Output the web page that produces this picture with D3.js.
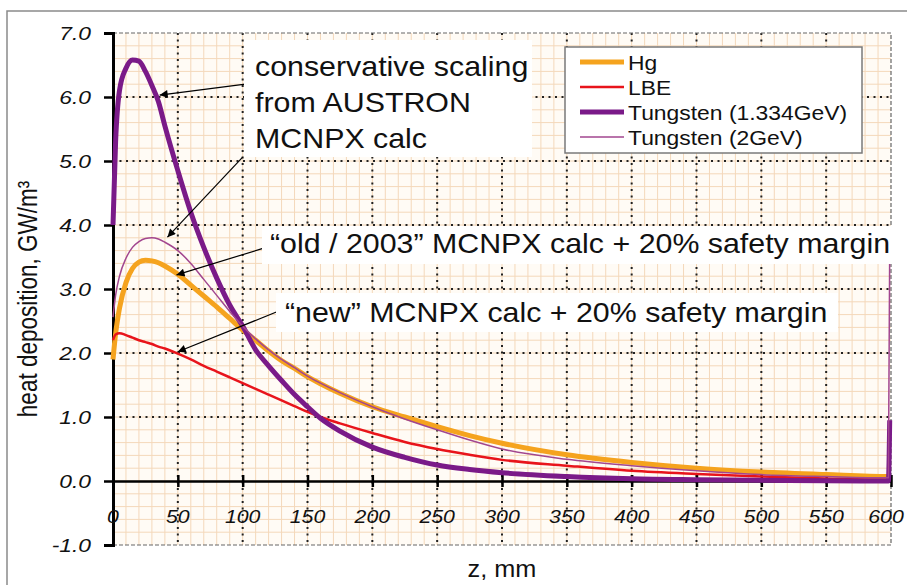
<!DOCTYPE html>
<html>
<head>
<meta charset="utf-8">
<script src="https://cdn.jsdelivr.net/npm/d3@7"></script>
<style>
body { margin: 0; background: #fff; }
text { font-family: "Liberation Sans", Arial, sans-serif; fill: #111; }
</style>
</head>
<body>
<div id="chart"></div>
<script>
// z positions (mm) shared by all series
const zValues = [0, 2, 5, 10, 15, 20, 25, 30, 35, 40, 50, 60, 70, 80, 90, 100, 110, 120, 130, 140,
    150, 160, 175, 200, 225, 250, 275, 300, 350, 400, 450, 500, 550, 598, 599];

const hgValues = [1.9, 2.3, 2.7, 3.1, 3.32, 3.42, 3.45, 3.44, 3.41, 3.36, 3.23, 3.06, 2.89, 2.72, 2.54, 2.36, 2.2, 2.03, 1.88, 1.76,
    1.63, 1.52, 1.37, 1.16, 1.0, 0.85, 0.71, 0.59, 0.41, 0.29, 0.2, 0.14, 0.1, 0.07, 0.07];

const lbeValues = [2.2, 2.29, 2.31, 2.28, 2.24, 2.2, 2.17, 2.14, 2.1, 2.07, 1.99, 1.9, 1.8, 1.71, 1.62, 1.53, 1.44, 1.35, 1.26, 1.17,
    1.08, 1.0, 0.9, 0.75, 0.61, 0.5, 0.41, 0.33, 0.24, 0.16, 0.11, 0.07, 0.04, 0.02, 0.02];

const tungstenValues = [4.0, 5.3, 6.1, 6.45, 6.58, 6.56, 6.4, 6.18, 5.93, 5.55, 4.85, 4.2, 3.65, 3.17, 2.75, 2.42, 2.05, 1.8, 1.57, 1.35,
    1.16, 0.98, 0.78, 0.53, 0.37, 0.25, 0.18, 0.13, 0.07, 0.035, 0.02, 0.01, 0.005, 0.0, 0.95];

const tungsten2Values = [2.56, 2.9, 3.2, 3.48, 3.65, 3.74, 3.79, 3.8, 3.78, 3.73, 3.6, 3.4, 3.15, 2.9, 2.65, 2.42, 2.22, 2.05, 1.9, 1.77,
    1.64, 1.53, 1.38, 1.16, 0.97, 0.8, 0.64, 0.5, 0.34, 0.24, 0.16, 0.1, 0.07, 0.05, 3.6];

const seriesNames = ["Hg", "LBE", "Tungsten (1.334GeV)", "Tungsten (2GeV)"];
const xTicks = [0, 50, 100, 150, 200, 250, 300, 350, 400, 450, 500, 550, 600];
const yTicks = [-1, 0, 1, 2, 3, 4, 5, 6, 7];

// annotation arrows, in data units: [zFrom, vFrom, zTo, vTo]
const arrows = [
    [102, 6.2, 36, 6.03],
    [100, 5.06, 42, 3.81],
    [115, 3.63, 49, 3.22],
    [126, 2.64, 50, 2.02]
];

const svgWidth = 907;
const svgHeight = 585;

const margin = {
    top: 33,
    right: 16,
    bottom: 40,
    left: 113
};

const width = 778;
const height = 512;
const sx = 1.12;

const svg = d3
    .select("#chart")
    .append("svg")
    .attr("width", svgWidth)
    .attr("height", svgHeight);

// outer frame
svg.append("path")
    .attr("d", `M7,${svgHeight} L7,11 L${svgWidth},11`)
    .attr("fill", "none")
    .attr("stroke", "#8a8a8a")
    .attr("stroke-width", 1.5);

const chartGroup = svg.append("g")
    .attr("transform", `translate(${margin.left}, ${margin.top})`);

const xLinear = d3.scaleLinear().domain([0, 600]).range([0, width]);
const yLinear = d3.scaleLinear().domain([-1, 7]).range([height, 0]);

chartGroup.append("rect")
    .attr("width", width)
    .attr("height", height)
    .attr("fill", "#fffbf5");

// minor grid
chartGroup.append("g")
    .selectAll("line")
    .data(d3.range(10, 600, 10))
    .enter()
    .append("line")
    .attr("x1", d => xLinear(d))
    .attr("x2", d => xLinear(d))
    .attr("y1", 0)
    .attr("y2", height)
    .attr("stroke", "#f4d8ba")
    .attr("stroke-width", 1);

chartGroup.append("g")
    .selectAll("line")
    .data(d3.range(-0.8, 7, 0.2))
    .enter()
    .append("line")
    .attr("x1", 0)
    .attr("x2", width)
    .attr("y1", d => yLinear(d))
    .attr("y2", d => yLinear(d))
    .attr("stroke", "#f4d8ba")
    .attr("stroke-width", 1);

// major grid, dotted
chartGroup.append("g")
    .selectAll("line")
    .data(xTicks.filter(d => d > 0 && d < 600))
    .enter()
    .append("line")
    .attr("x1", d => xLinear(d))
    .attr("x2", d => xLinear(d))
    .attr("y1", 0)
    .attr("y2", height)
    .attr("stroke", "#222")
    .attr("stroke-width", 2)
    .attr("stroke-dasharray", "2,4.5");

chartGroup.append("g")
    .selectAll("line")
    .data(yTicks.filter(d => d > -1 && d < 7 && d !== 0))
    .enter()
    .append("line")
    .attr("x1", 0)
    .attr("x2", width)
    .attr("y1", d => yLinear(d))
    .attr("y2", d => yLinear(d))
    .attr("stroke", "#222")
    .attr("stroke-width", 2)
    .attr("stroke-dasharray", "2,4.5");

// dashed plot border (top, right, bottom)
chartGroup.append("path")
    .attr("d", `M0,0 L${width},0 L${width},${height} L0,${height}`)
    .attr("fill", "none")
    .attr("stroke", "#666")
    .attr("stroke-width", 1.2)
    .attr("stroke-dasharray", "4,2");

// axes
const leftSide = d3.axisLeft(yLinear).tickValues(yTicks).tickSize(9).tickFormat("");
const yAxis = chartGroup.append("g").call(leftSide);
yAxis.select(".domain").attr("stroke", "#000").attr("stroke-width", 3);
yAxis.selectAll(".tick line").attr("stroke", "#000").attr("stroke-width", 2.5);

const lowerAxis = d3.axisBottom(xLinear).tickValues(xTicks).tickSizeInner(6).tickSizeOuter(0).tickFormat("");
const xAxis = chartGroup.append("g")
    .attr("transform", `translate(0, ${yLinear(0)})`)
    .call(lowerAxis);
xAxis.select(".domain").attr("stroke", "#000").attr("stroke-width", 2.5);
xAxis.selectAll(".tick line")
    .attr("y1", -6)
    .attr("stroke", "#000")
    .attr("stroke-width", 2.5);

// tick labels
chartGroup.append("g")
    .selectAll("text")
    .data(yTicks)
    .enter()
    .append("text")
    .attr("transform", d => `translate(-22, ${yLinear(d) + 6.5}) scale(1.2, 1)`)
    .attr("text-anchor", "end")
    .attr("font-size", 19)
    .attr("font-style", "italic")
    .text(d => d.toFixed(1));

chartGroup.append("g")
    .selectAll("text")
    .data(xTicks)
    .enter()
    .append("text")
    .attr("transform", d => `translate(${Math.min(xLinear(d), width - 5)}, ${yLinear(0) + 42}) scale(${sx}, 1)`)
    .attr("text-anchor", "middle")
    .attr("font-size", 19)
    .attr("font-style", "italic")
    .text(d => d);

// series
const seriesValues = [hgValues, lbeValues, tungstenValues, tungsten2Values];
const seriesColors = ["#f5a31e", "#e8141b", "#7a1a88", "#a2468f"];
const seriesWidths = [5, 2.5, 5, 1.5];

const line = d3.line()
    .x(d => xLinear(d[0]))
    .y(d => yLinear(d[1]))
    .curve(d3.curveMonotoneX);

seriesValues.forEach(function(values, i) {
    chartGroup.append("path")
        .datum(zValues.map((z, j) => [z, values[j]]))
        .attr("d", line)
        .attr("fill", "none")
        .attr("stroke", seriesColors[i])
        .attr("stroke-width", seriesWidths[i])
        .attr("stroke-linejoin", "round");
});

// annotation boxes
const boxes = [
    {x: 244, y: 40, w: 288, h: 117},
    {x: 262, y: 226, w: 636, h: 38},
    {x: 276, y: 293, w: 562, h: 39}
];
svg.append("g")
    .selectAll("rect")
    .data(boxes)
    .enter()
    .append("rect")
    .attr("x", d => d.x)
    .attr("y", d => d.y)
    .attr("width", d => d.w)
    .attr("height", d => d.h)
    .attr("fill", "#fff");

const notes = [
    {x: 255, y: 76, t: "conservative scaling"},
    {x: 255, y: 112, t: "from AUSTRON"},
    {x: 255, y: 148, t: "MCNPX calc"},
    {x: 270, y: 253, t: "\u201cold / 2003\u201d MCNPX calc + 20% safety margin"},
    {x: 285, y: 322, t: "\u201cnew\u201d MCNPX calc + 20% safety margin"}
];
svg.append("g")
    .selectAll("text")
    .data(notes)
    .enter()
    .append("text")
    .attr("transform", d => `translate(${d.x}, ${d.y}) scale(1.125, 1)`)
    .attr("font-size", 27)
    .text(d => d.t);

// arrows
svg.append("defs").append("marker")
    .attr("id", "head")
    .attr("viewBox", "0 0 10 10")
    .attr("refX", 10)
    .attr("refY", 5)
    .attr("markerWidth", 11)
    .attr("markerHeight", 8)
    .attr("markerUnits", "userSpaceOnUse")
    .attr("orient", "auto")
    .append("path")
    .attr("d", "M0,0 L10,5 L0,10 Z")
    .attr("fill", "#000");

chartGroup.append("g")
    .selectAll("line")
    .data(arrows)
    .enter()
    .append("line")
    .attr("x1", d => xLinear(d[0]))
    .attr("y1", d => yLinear(d[1]))
    .attr("x2", d => xLinear(d[2]))
    .attr("y2", d => yLinear(d[3]))
    .attr("stroke", "#000")
    .attr("stroke-width", 1.2)
    .attr("marker-end", "url(#head)");

// legend
const legend = svg.append("g").attr("transform", "translate(565, 47)");
legend.append("rect")
    .attr("width", 297)
    .attr("height", 106)
    .attr("fill", "#fff")
    .attr("stroke", "#7a7a7a")
    .attr("stroke-width", 1.5);

const legendItems = legend.selectAll("g")
    .data(seriesNames)
    .enter()
    .append("g")
    .attr("transform", (d, i) => `translate(0, ${15 + i * 25})`);

legendItems.append("line")
    .attr("x1", 15)
    .attr("x2", 59)
    .attr("stroke", (d, i) => seriesColors[i])
    .attr("stroke-width", (d, i) => seriesWidths[i]);

legendItems.append("text")
    .attr("transform", "translate(63, 7.5) scale(1.09, 1)")
    .attr("font-size", 21)
    .text(d => d);

// axis titles
svg.append("text")
    .attr("transform", `translate(37, 299) rotate(-90) scale(1, 1.2)`)
    .attr("text-anchor", "middle")
    .attr("font-size", 22.5)
    .text("heat deposition, GW/m\u00b3");

svg.append("text")
    .attr("transform", `translate(${margin.left + width / 2}, 577) scale(1.1, 1)`)
    .attr("text-anchor", "middle")
    .attr("font-size", 23)
    .text("z, mm");
</script>
</body>
</html>
